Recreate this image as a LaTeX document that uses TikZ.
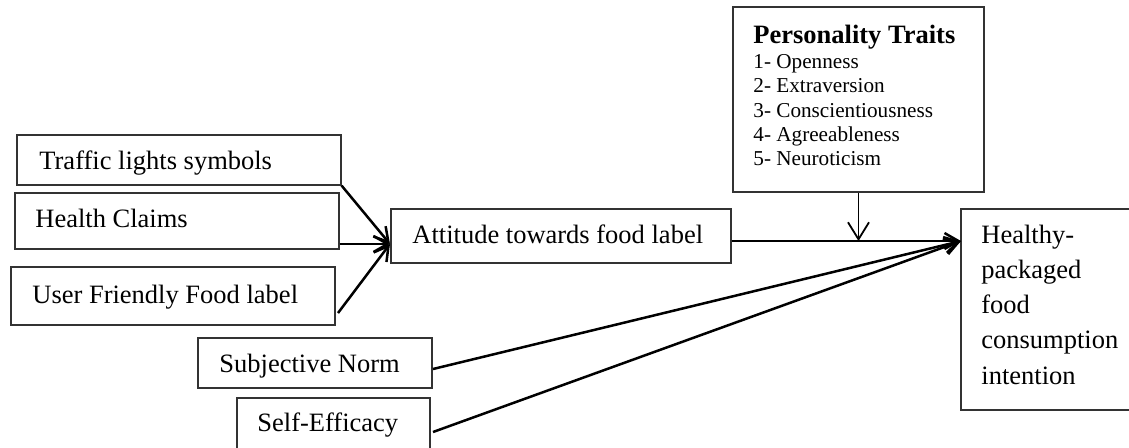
\documentclass[tikz,border=0pt]{standalone}
\usepackage{fontspec}
\setmainfont{Liberation Serif}
\usetikzlibrary{arrows.meta,fit}
\begin{document}
\begin{tikzpicture}[x=0.5pt,y=-0.5pt,
  box/.style={draw=black!80, line width=0.6pt, rectangle, inner sep=0pt},
  lbl/.style={anchor=base west, inner sep=0pt, font=\fontsize{13.25}{16}\selectfont},
  item/.style={anchor=base west, inner sep=0pt, font=\fontsize{10.6}{12}\selectfont},
  conn/.style={line width=1.25pt, -{Straight Barb[length=7pt,width=8pt,line width=1.25pt]}},
  modr/.style={line width=0.9pt, -{Straight Barb[length=8.5pt,width=10.5pt,line width=0.9pt]}},
]
\useasboundingbox (0,0) rectangle (1129,447);
\clip (0,0) rectangle (1129,447);

% boxes
\node[box, fit={(17,135) (341,185)}] (traffic) {};
\node[box, fit={(15,193) (339,249)}] (health) {};
\node[box, fit={(11,267) (335,325)}] (user) {};
\node[box, fit={(198,338) (432,388)}] (subj) {};
\node[box, fit={(237,398) (430,470)}] (self) {};
\node[box, fit={(391,209) (731,263)}] (att) {};
\node[box, fit={(733,7) (984,192)}] (pers) {};
\node[box, fit={(961,209) (1150,410)}] (hpf) {};

% labels
\node[lbl] (traffic-t) at (39,169) {Traffic lights symbols};
\node[lbl] (health-t) at (35,227) {Health Claims};
\node[lbl] (user-t) at (32,303) {User Friendly Food label};
\node[lbl] (subj-t) at (219,372) {Subjective Norm};
\node[lbl] (self-t) at (257,431) {Self-Efficacy};
\node[lbl] (att-t) at (412,243) {Attitude towards food label};

\node[lbl, font=\fontsize{13.25}{16}\selectfont\bfseries] (pers-t) at (753,43) {Personality Traits};
\foreach \i/\y/\txt in {1/68/Openness, 2/92.5/Extraversion, 3/117/Conscientiousness,
                        4/141/Agreeableness, 5/165.5/Neuroticism}
  \node[item] (pers-\i) at (753,\y) {\i- \txt};

\foreach \i/\y/\txt in {1/243/Healthy-, 2/278.5/packaged, 3/313.5/food,
                        4/348.5/consumption, 5/384/intention}
  \node[lbl] (hpf-\i) at (981,\y) {\txt};

% connector ends
\coordinate (attin) at (390,244);
\coordinate (hpfin) at (961,241);
\coordinate (userout) at (338,313);
\coordinate (subjout) at (433,369);
\coordinate (selfout) at (433,432);
\coordinate (persin) at (858.5,241);

% connectors
\draw[conn] (traffic.south east) -- (attin);
\draw[conn] (health.east |- attin) -- (attin);
\draw[conn] (userout) -- (attin);
\draw[conn] (att.east |- hpfin) -- (hpfin);
\draw[conn] (subjout) -- (hpfin);
\draw[conn] (selfout) -- (hpfin);
\draw[modr] (pers.south) -- (persin);
\end{tikzpicture}
\end{document}
